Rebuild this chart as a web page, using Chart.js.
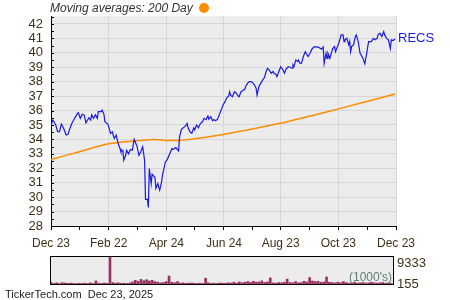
<!DOCTYPE html>
<html>
<head>
<meta charset="utf-8">
<script src="https://cdn.jsdelivr.net/npm/chart.js@4.4.1/dist/chart.umd.min.js"></script>
<style>
  body { margin: 0; background: #fff; }
  #wrap { position: relative; width: 450px; height: 300px; font-family: Arial, "Liberation Sans", sans-serif; }
  canvas { position: absolute; left: 0; top: 0; }
  #legend { position: absolute; left: 50px; top: 0; font-size: 12px; font-style: italic; color: #333; line-height: 16px; white-space: nowrap; }
  #legend .dot { display: inline-block; width: 10px; height: 10px; border-radius: 50%; background: #ff8c00; margin-left: 6px; vertical-align: -1px; }
  #foot { position: absolute; left: 5px; top: 287px; font-size: 11px; line-height: 14px; color: #222; white-space: pre; }
</style>
</head>
<body>
<div id="wrap">
  <canvas id="volChart" width="450" height="300"></canvas>
  <canvas id="priceChart" width="450" height="300"></canvas>
  <div id="legend">Moving averages: 200 Day<span class="dot"></span></div>
  <div id="foot">TickerTech.com  Dec 23, 2025</div>
</div>
<script>
// x positions are days since Dec 23
const xTickDays = [0, 30, 61, 91, 122, 152, 183, 213, 243, 274, 304, 335, 365];
const xTickLabels = ['Dec 23', '', 'Feb 22', '', 'Apr 24', '', 'Jun 24', '', 'Aug 23', '', 'Oct 23', '', 'Dec 23'];
const yTicks = [28, 29, 30, 31, 32, 33, 34, 35, 36, 37, 38, 39, 40, 41, 42];

const priceDays = [0,2,5,7,9,11,13,16,18,20,22,25,28,29,31,33,35,37,40,42,43,45,47,49,50,53,54,56,57,60,
  61,63,65,66,67,69,71,73,74,76,77,79,80,82,84,86,88,89,91,93,95,97,99,100,102,103,104,106,107,110,
  111,113,115,117,118,121,123,128,129,132,135,136,138,142,144,145,147,149,151,152,154,156,158,160,162,164,166,167,169,171,
  172,174,176,178,180,182,184,186,188,189,190,192,194,196,198,199,201,203,205,206,208,210,212,213,215,217,218,220,222,224,
  226,227,229,231,233,235,236,238,239,242,243,245,247,249,250,251,253,255,256,257,259,261,262,263,265,267,269,271,272,274,
  276,278,279,281,283,285,286,288,289,291,292,293,295,296,298,300,301,303,305,307,309,310,311,313,315,316,317,318,320,322,
  323,325,327,329,330,332,334,336,338,339,341,343,345,346,348,350,352,353,355,357,359,360,362,364];
const priceValues = [35.0,35.34,35.0,34.53,34.53,35.06,34.83,34.3,34.35,34.76,35.1,35.46,35.8,35.85,35.46,35.75,35.7,35.15,35.5,35.34,35.7,35.46,35.7,35.46,35.92,35.92,36.03,35.75,35.22,35.06,
  34.9,34.42,34.53,34.23,34.07,34.3,33.72,33.37,33.14,33.25,32.56,32.9,33.25,33.0,33.3,33.25,34.0,33.83,33.53,32.9,33.14,33.49,32.56,29.85,29.85,29.28,31.98,30.94,31.59,31.36,
  30.6,30.94,30.48,31.05,31.52,32.44,32.6,33.37,33.3,33.43,33.2,34.18,34.7,34.92,35.1,34.8,34.53,34.42,34.8,34.65,35.0,34.8,35.1,35.2,35.46,35.37,35.62,35.4,35.57,35.3,
  35.37,35.3,35.37,35.7,36.03,36.38,36.6,36.9,37.0,37.3,37.07,36.95,37.3,37.2,37.0,36.95,37.3,37.38,37.47,37.66,37.9,38.0,38.0,37.95,37.8,37.55,37.07,37.66,37.9,38.12,
  38.3,38.58,38.93,38.8,38.58,38.7,38.58,38.5,38.35,38.86,39.04,38.86,38.58,38.93,38.93,39.04,39.0,38.93,39.16,39.04,39.5,39.4,39.5,39.3,39.27,39.74,40.08,39.85,39.74,39.97,
  40.25,40.4,40.43,40.4,40.4,40.3,40.25,40.4,39.27,39.97,39.62,39.97,39.62,39.85,40.3,40.43,40.08,40.43,40.78,41.24,41.24,40.78,40.9,41.0,40.55,40.78,40.08,40.43,40.55,41.13,
  41.24,40.78,39.97,39.74,39.62,39.23,39.97,40.78,40.78,40.78,41.0,40.9,41.0,41.24,41.36,41.13,41.47,41.24,41.0,40.9,40.3,40.9,40.85,40.95];

const maDays = [0, 30, 61, 90, 110, 123, 140, 179, 241, 302, 364];
const maValues = [32.6, 33.15, 33.7, 33.9, 34.0, 33.92, 33.95, 34.3, 35.1, 36.08, 37.15];

// volume in thousands, one bar every 3 days
const volTicks = [155, 9333];
const volValues = [900,500,700,450,750,650,550,600,500,450,550,500,600,450,700,500,1300,600,500,650,
  550,9333,800,600,700,550,600,500,650,1000,1500,1200,1800,1400,1700,1300,1500,1100,900,700,
  800,1100,2900,900,700,1100,600,700,550,600,650,550,500,600,500,2200,700,550,600,500,
  650,600,550,700,650,900,600,1000,700,900,1100,800,1200,900,1000,1300,800,1000,2300,700,
  600,800,700,900,1900,800,700,1100,700,800,1200,1000,2400,1300,1100,1200,900,1000,2600,900,
  800,700,900,700,1100,800,600,700,900,600,700,800,600,700,900,700,600,700,800,600,
  700,500];
const volDays = volValues.map((v, i) => i * 3);

Chart.defaults.font.family = 'Arial, "Liberation Sans", sans-serif';
Chart.defaults.font.size = 12;
const labelColor = '#3d3118';

const plotBg = {
  id: 'plotBg',
  beforeDraw(chart) {
    const a = chart.chartArea, ctx = chart.ctx;
    ctx.save();
    ctx.fillStyle = '#ececec';
    ctx.fillRect(a.left, a.top, a.right - a.left, a.bottom - a.top);
    ctx.restore();
  }
};

const priceExtras = {
  id: 'priceExtras',
  afterDraw(chart) {
    const ctx = chart.ctx, y = chart.scales.y, a = chart.chartArea;
    ctx.save();
    ctx.strokeStyle = '#000';
    ctx.lineWidth = 1;
    for (let v = 28.5; v < 42.6; v += 0.5) {
      const py = Math.round(y.getPixelForValue(v)) + 0.5;
      ctx.beginPath();
      ctx.moveTo(a.left, py);
      ctx.lineTo(a.left + 3, py);
      ctx.stroke();
    }
    const meta = chart.getDatasetMeta(0);
    const last = meta.data[meta.data.length - 1];
    ctx.fillStyle = '#1a1ae0';
    ctx.font = '13px Arial, "Liberation Sans", sans-serif';
    ctx.textBaseline = 'middle';
    ctx.fillText('RECS', last.x + 3, last.y - 1);
    ctx.restore();
  }
};

const volExtras = {
  id: 'volExtras',
  afterDraw(chart) {
    const a = chart.chartArea, ctx = chart.ctx;
    ctx.save();
    ctx.strokeStyle = '#000';
    ctx.lineWidth = 1;
    ctx.strokeRect(a.left + 0.5, a.top + 0.5, a.right - a.left - 1, a.bottom - a.top - 1);
    ctx.fillStyle = '#5f8070';
    ctx.font = '12px Arial, "Liberation Sans", sans-serif';
    ctx.textAlign = 'right';
    ctx.textBaseline = 'bottom';
    ctx.fillText("(1000's)", a.right - 2, a.bottom - 1);
    ctx.restore();
  }
};

new Chart('priceChart', {
  type: 'line',
  data: {
    datasets: [
      {
        label: 'RECS',
        data: priceDays.map((d, i) => ({ x: d, y: priceValues[i] })),
        borderColor: '#1a1ae0',
        borderWidth: 1.2,
        pointRadius: 0,
        tension: 0
      },
      {
        label: '200 Day',
        data: maDays.map((d, i) => ({ x: d, y: maValues[i] })),
        borderColor: '#ff8c00',
        borderWidth: 1.5,
        pointRadius: 0,
        tension: 0.3
      }
    ]
  },
  options: {
    responsive: false,
    animation: false,
    layout: { padding: { top: 16, right: 54, bottom: 50, left: 0 } },
    plugins: { legend: { display: false }, tooltip: { enabled: false } },
    scales: {
      x: {
        type: 'linear',
        min: 0,
        max: 365,
        afterBuildTicks: s => { s.ticks = xTickDays.map(v => ({ value: v })); },
        afterFit: s => { s.height = 24; },
        ticks: {
          autoSkip: false,
          maxRotation: 0,
          color: labelColor,
          padding: 6,
          callback: (v, i) => xTickLabels[i]
        },
        grid: {
          color: c => (xTickLabels[c.index] ? '#d6d6d6' : 'rgba(0,0,0,0)'),
          tickColor: '#000',
          tickLength: 4
        },
        border: { color: '#000', width: 1 }
      },
      y: {
        min: 28,
        max: 42.55,
        afterBuildTicks: s => { s.ticks = yTicks.map(v => ({ value: v })); },
        afterFit: s => { s.width = 51; },
        ticks: { autoSkip: false, color: labelColor, padding: 8, font: { size: 13 } },
        grid: { color: '#d6d6d6', drawTicks: false },
        border: { color: '#000', width: 1 }
      }
    }
  },
  plugins: [plotBg, priceExtras]
});

new Chart('volChart', {
  type: 'bar',
  data: {
    datasets: [{
      data: volDays.map((d, i) => ({ x: d, y: volValues[i] })),
      backgroundColor: '#993366',
      barThickness: 2
    }]
  },
  options: {
    responsive: false,
    animation: false,
    layout: { padding: { top: 256, right: 0, bottom: 15, left: 50 } },
    plugins: { legend: { display: false }, tooltip: { enabled: false } },
    scales: {
      x: { type: 'linear', min: -1, max: 366, offset: false, display: false },
      y: {
        position: 'right',
        min: 0,
        max: 9333,
        afterBuildTicks: s => { s.ticks = volTicks.map(v => ({ value: v })); },
        afterFit: s => { s.width = 56; },
        ticks: {
          autoSkip: false,
          color: labelColor,
          padding: 3,
          font: { size: 13 },
          callback: (v, i) => (i === volTicks.length - 1 ? ['', String(v)] : String(v))
        },
        grid: { display: false, drawTicks: false },
        border: { display: false }
      }
    }
  },
  plugins: [plotBg, volExtras]
});
</script>
</body>
</html>
